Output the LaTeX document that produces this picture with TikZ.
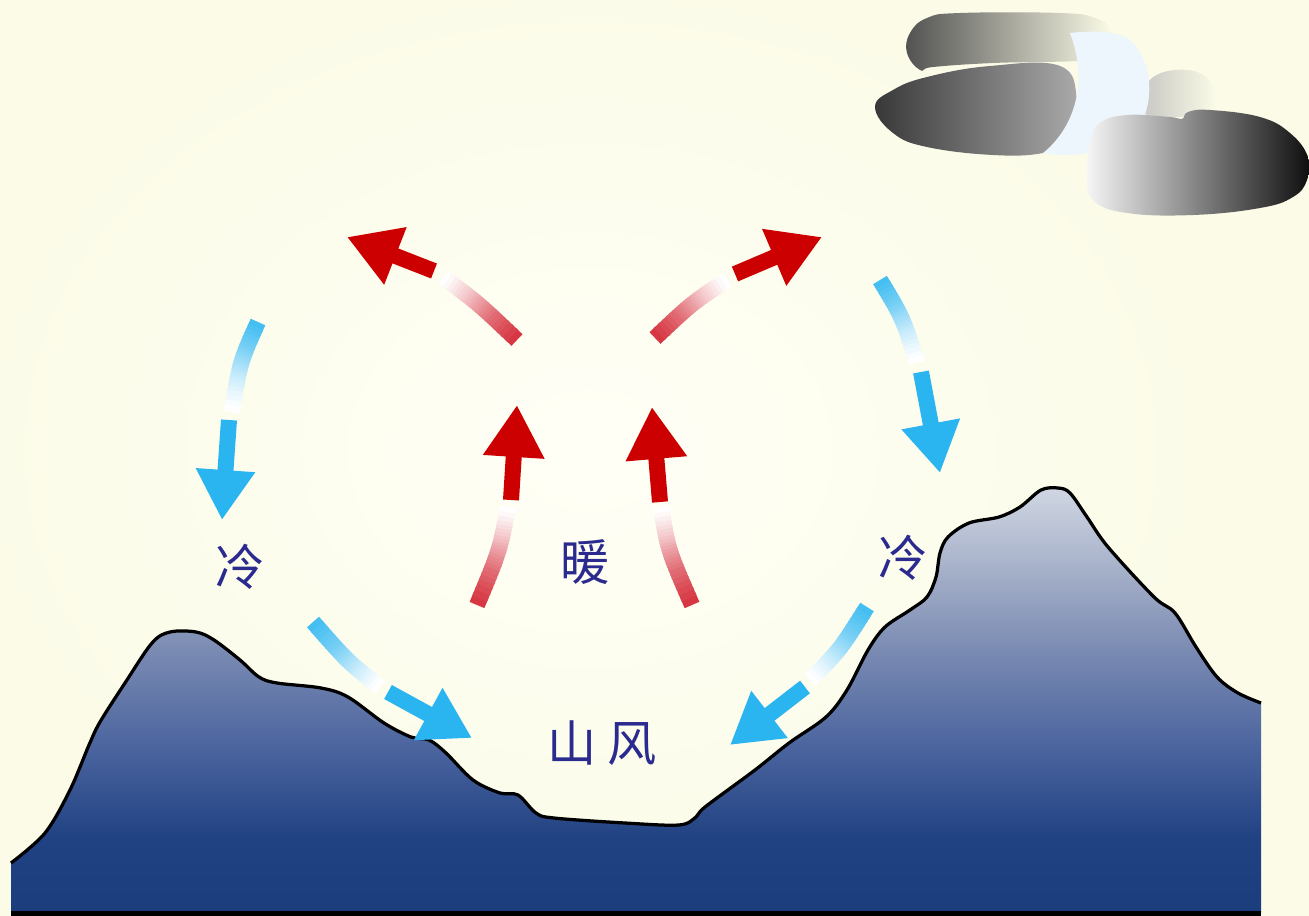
\documentclass[tikz,border=0pt]{standalone}
\usepackage{fontspec}
\newfontfamily\cjk{Noto Sans CJK SC}
\usetikzlibrary{arrows.meta}

\newlength{\du}
\setlength{\du}{0.02cm}

\definecolor{paper}{rgb}{0.984,0.984,0.906}
\definecolor{glow}{rgb}{1.000,1.000,0.965}
\definecolor{warmred}{rgb}{0.800,0.000,0.000}
\definecolor{tailred}{rgb}{0.820,0.110,0.160}
\definecolor{coldblue}{rgb}{0.170,0.710,0.940}
\definecolor{inkblue}{rgb}{0.170,0.170,0.560}
\definecolor{moonlight}{rgb}{0.925,0.965,0.990}
\definecolor{mtnA}{rgb}{0.816,0.839,0.886}
\definecolor{mtnB}{rgb}{0.671,0.710,0.800}
\definecolor{mtnC}{rgb}{0.480,0.545,0.700}
\definecolor{mtnD}{rgb}{0.290,0.390,0.620}
\definecolor{mtnE}{rgb}{0.125,0.255,0.510}
\definecolor{mtnF}{rgb}{0.110,0.240,0.490}

% slope colours, light at the peaks and navy at the foot
\pgfdeclareverticalshading{mountainfill}{100bp}{color(0bp)=(mtnF); color(25bp)=(mtnF); color(33.6bp)=(mtnE); color(44.2bp)=(mtnD); color(55.9bp)=(mtnC); color(66.5bp)=(mtnB); color(75bp)=(mtnA); color(100bp)=(mtnA)}

% tail of a flow arrow, fading out towards the arrow body
\newcommand{\fadetail}[4]{%
  \foreach \i in {0,...,23}{%
    \pgfmathsetmacro{\ta}{\i/24}%
    \pgfmathsetmacro{\tb}{min(1,(\i+1.5)/24)}%
    \pgfmathtruncatemacro{\tp}{88-88*\i/23}%
    \path #2 .. controls #3 .. #4 coordinate[pos=\ta] (fa) coordinate[pos=\tb] (fb);%
    \draw[draw=#1!\tp!white, line width=16\du] (fa) -- (fb);%
  }%
}

\tikzset{
  warm/.style={draw=warmred, line width=0.32cm, -{Triangle[length=1.04cm,width=1.16cm]}},
  cold/.style={draw=coldblue, line width=0.32cm, -{Triangle[length=1.0cm,width=1.12cm]}},
  ridge/.style={draw=black, line width=0.065cm, line join=round},
  airtext/.style={text=inkblue, inner sep=0pt, font=\cjk\fontsize{28pt}{32pt}\selectfont}
}

\begin{document}
\begin{tikzpicture}
\pgftransformxscale{1.000000}
\pgftransformyscale{-1.000000}
\useasboundingbox (0\du,0\du) rectangle (1309\du,916\du);
% sky
\fill[paper] (0\du,0\du) rectangle (1309\du,916\du);
\begin{scope}
\clip (0\du,0\du) rectangle (1309\du,916\du);
\shade[inner color=glow, outer color=paper] (590\du,450\du) ellipse [x radius=660\du, y radius=500\du];
\end{scope}
% clouds and moon
\shade[left color=black!78, right color=black!33] plot[smooth cycle, tension=0.7] coordinates {(875\du,107\du) (893\du,90\du) (927\du,77\du) (990\du,66\du) (1060\du,66\du) (1077\du,100\du) (1073\du,140\du) (1043\du,153\du) (993\du,155\du) (927\du,147\du) (893\du,133\du)};
\shade[left color=black!68, right color=paper] plot[smooth cycle, tension=0.7] coordinates {(920\du,70\du) (907\du,53\du) (910\du,33\du) (927\du,18\du) (960\du,13\du) (1060\du,13\du) (1095\du,18\du) (1110\du,30\du) (1105\du,50\du) (1090\du,60\du) (993\du,63\du) (933\du,67\du)};
\shade[left color=black!25, right color=paper] plot[smooth cycle, tension=0.7] coordinates {(1140\du,112\du) (1148\du,82\du) (1175\du,70\du) (1205\du,76\du) (1215\du,98\du) (1200\du,115\du)};
\fill[moonlight] (1070\du,33\du) .. controls (1095\du,30\du) and (1120\du,32\du) .. (1130\du,40\du) .. controls (1152\du,60\du) and (1155\du,100\du) .. (1140\du,125\du) .. controls (1125\du,148\du) and (1080\du,160\du) .. (1043\du,153\du) .. controls (1072\du,130\du) and (1090\du,85\du) .. (1070\du,33\du) -- cycle;
\shade[left color=black!3, middle color=black!45, right color=black!95] plot[smooth cycle, tension=0.7] coordinates {(1087\du,173\du) (1090\du,143\du) (1100\du,123\du) (1127\du,115\du) (1170\du,117\du) (1182\du,119\du) (1188\du,112\du) (1210\du,110\du) (1260\du,117\du) (1290\du,133\du) (1308\du,157\du) (1307\du,180\du) (1293\du,197\du) (1260\du,208\du) (1193\du,215\du) (1127\du,213\du) (1093\du,200\du)};
% mountains
\shade[shading=mountainfill] (11\du,913\du) -- plot[smooth, tension=0.55] coordinates {(11\du,863\du) (45\du,833\du) (70\du,790\du) (89\du,745\du) (100\du,722\du) (125\du,683\du) (152\du,643\du) (170\du,632\du) (196\du,632\du) (214\du,640\du) (240\du,660\du) (259\du,677\du) (277\du,683\du) (321\du,688\du) (348\du,697\du) (384\du,723\du) (411\du,737\du) (429\du,740\du) (446\du,753\du) (473\du,780\du) (500\du,793\du) (518\du,795\du) (536\du,813\du) (554\du,818\du) (625\du,823\du) (679\du,825\du) (696\du,817\du) (705\du,807\du) (755\du,770\du) (789\du,743\du) (826\du,717\du) (847\du,690\du) (868\du,650\du) (885\du,627\du) (910\du,610\du) (927\du,597\du) (936\du,577\du) (940\du,553\du) (948\du,537\du) (969\du,523\du) (999\du,517\du) (1020\du,507\du) (1041\du,490\du) (1058\du,488\du) (1070\du,493\du) (1087\du,517\du) (1108\du,547\du) (1154\du,597\du) (1175\du,613\du) (1196\du,647\du) (1217\du,677\du) (1238\du,693\du) (1261\du,703\du)} -- (1261\du,913\du) -- cycle;
\draw[ridge] plot[smooth, tension=0.55] coordinates {(11\du,863\du) (45\du,833\du) (70\du,790\du) (89\du,745\du) (100\du,722\du) (125\du,683\du) (152\du,643\du) (170\du,632\du) (196\du,632\du) (214\du,640\du) (240\du,660\du) (259\du,677\du) (277\du,683\du) (321\du,688\du) (348\du,697\du) (384\du,723\du) (411\du,737\du) (429\du,740\du) (446\du,753\du) (473\du,780\du) (500\du,793\du) (518\du,795\du) (536\du,813\du) (554\du,818\du) (625\du,823\du) (679\du,825\du) (696\du,817\du) (705\du,807\du) (755\du,770\du) (789\du,743\du) (826\du,717\du) (847\du,690\du) (868\du,650\du) (885\du,627\du) (910\du,610\du) (927\du,597\du) (936\du,577\du) (940\du,553\du) (948\du,537\du) (969\du,523\du) (999\du,517\du) (1020\du,507\du) (1041\du,490\du) (1058\du,488\du) (1070\du,493\du) (1087\du,517\du) (1108\du,547\du) (1154\du,597\du) (1175\du,613\du) (1196\du,647\du) (1217\du,677\du) (1238\du,693\du) (1261\du,703\du)};
\draw[line width=0.1cm] (11\du,913.5\du) -- (1261\du,913.5\du);
% warm air rising
\fadetail{tailred}{(477\du,605\du)}{(500\du,550\du)}{(508\du,507\du)}
\draw[warm] (511\du,500\du) -- (517\du,405\du);
\fadetail{tailred}{(692\du,605\du)}{(668\du,550\du)}{(661\du,507\du)}
\draw[warm] (660\du,502\du) -- (652\du,407\du);
\fadetail{tailred}{(517\du,340\du)}{(478\du,303\du)}{(443\du,277\du)}
\draw[warm] (434\du,271\du) -- (347\du,237\du);
\fadetail{tailred}{(655\du,338\du)}{(692\du,303\du)}{(727\du,280\du)}
\draw[warm] (735\du,274\du) -- (822\du,237\du);
% cold air sinking
\fadetail{coldblue}{(258\du,322\du)}{(240\du,362\du)}{(232\du,412\du)}
\draw[cold] (229\du,420\du) -- (222\du,520\du);
\fadetail{coldblue}{(313\du,622\du)}{(348\du,662\du)}{(380\du,687\du)}
\draw[cold] (388\du,692\du) -- (472\du,738\du);
\fadetail{coldblue}{(880\du,280\du)}{(903\du,318\du)}{(917\du,363\du)}
\draw[cold] (921\du,372\du) -- (940\du,473\du);
\fadetail{coldblue}{(867\du,607\du)}{(840\du,650\du)}{(810\du,680\du)}
\draw[cold] (805\du,687\du) -- (730\du,745\du);
% labels
\node[airtext] (coldleft) at (240\du,567\du) {冷};
\node[airtext] (warmmid) at (585\du,562\du) {暖};
\node[airtext] (coldright) at (903\du,558\du) {冷};
\node[airtext] (valleywind) at (602\du,743\du) {山 风};
\end{tikzpicture}
\end{document}
